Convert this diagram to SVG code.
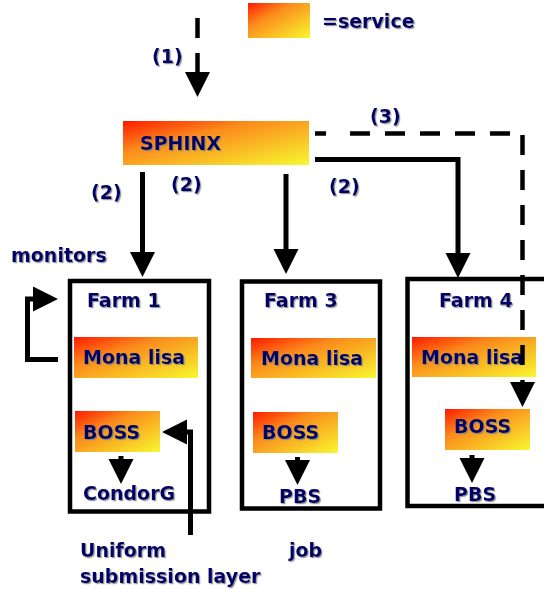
<svg xmlns="http://www.w3.org/2000/svg" width="544" height="589" viewBox="0 0 544 589">
<defs>
<linearGradient id="svc" x1="0" y1="0" x2="1" y2="1">
<stop offset="0" stop-color="#ff1a00"/>
<stop offset="0.35" stop-color="#fb8a1c"/>
<stop offset="0.7" stop-color="#f9c526"/>
<stop offset="1" stop-color="#f8f830"/>
</linearGradient>
<filter id="sh" x="-10%" y="-20%" width="130%" height="150%">
<feDropShadow dx="1.2" dy="1.2" stdDeviation="0.6" flood-color="#808080" flood-opacity="0.8"/>
</filter>
<marker id="ah" markerUnits="userSpaceOnUse" markerWidth="26" markerHeight="26" refX="0" refY="12.5" orient="auto" overflow="visible">
<path d="M0,0 L25,12.5 L0,25 Z" fill="#000"/>
</marker>
</defs>
<style>
text{font-family:"DejaVu Sans","Verdana",sans-serif;font-weight:bold;font-size:19px;fill:#000066;filter:url(#sh)}
.svc{fill:url(#svc)}
.farm{fill:none;stroke:#000;stroke-width:4.5}
.ln{fill:none;stroke:#000;stroke-width:5;stroke-linejoin:miter}
.dash{fill:none;stroke:#000;stroke-width:4.5;stroke-dasharray:20 15}
</style>
<rect width="544" height="589" fill="#fff"/>

<g id="legend">
<rect class="svc" x="248" y="3" width="62" height="35"/>
<text x="322" y="28">=service</text>
</g>

<g id="sphinx">
<rect class="svc" x="123" y="121" width="186" height="44"/>
<text x="140" y="150">SPHINX</text>
</g>

<g id="farm1">
<rect class="farm" x="70" y="281" width="139" height="230.5"/>
<text x="87" y="307">Farm 1</text>
</g>
<g id="monalisa1">
<rect class="svc" x="74" y="337" width="124" height="41"/>
<text x="83" y="364">Mona lisa</text>
</g>
<g id="boss1">
<rect class="svc" x="75" y="411" width="85" height="41"/>
<text x="83" y="439">BOSS</text>
</g>
<g id="condorg"><text x="83" y="500">CondorG</text></g>

<g id="farm3">
<rect class="farm" x="242" y="281.5" width="138" height="227"/>
<text x="264" y="307">Farm 3</text>
</g>
<g id="monalisa3">
<rect class="svc" x="251" y="338" width="125" height="40"/>
<text x="261" y="365">Mona lisa</text>
</g>
<g id="boss3">
<rect class="svc" x="253" y="412" width="85" height="41"/>
<text x="262" y="439">BOSS</text>
</g>
<g id="pbs3"><text x="279" y="503">PBS</text></g>

<g id="farm4">
<rect class="farm" x="407.5" y="279" width="200" height="227"/>
<text x="439" y="307">Farm 4</text>
</g>
<g id="monalisa4">
<rect class="svc" x="412" y="337" width="124" height="40"/>
<text x="421" y="364">Mona lisa</text>
</g>
<g id="boss4">
<rect class="svc" x="445" y="409" width="85" height="41"/>
<text x="454" y="433">BOSS</text>
</g>
<g id="pbs4"><text x="454" y="501">PBS</text></g>

<g id="labels">
<text x="152" y="63">(1)</text>
<text x="370" y="123">(3)</text>
<text x="91" y="199">(2)</text>
<text x="171" y="191">(2)</text>
<text x="329" y="193">(2)</text>
<text x="11" y="262">monitors</text>
<text x="80" y="557">Uniform</text>
<text x="80" y="583">submission layer</text>
<text x="289" y="557">job</text>
</g>

<g id="connectors">
<path class="dash" d="M197.5,18 V72" marker-end="url(#ah)"/>
<path class="ln" d="M142.5,172 V252" marker-end="url(#ah)"/>
<path class="ln" d="M286,174 V249" marker-end="url(#ah)"/>
<path class="ln" d="M315,159.5 H458 V253" marker-end="url(#ah)"/>
<path class="ln" d="M315,133.5 H326" style="stroke-width:4.5"/>
<path class="dash" d="M350,133.5 H510"/>
<path class="dash" d="M522.5,135 V382" marker-end="url(#ah)"/>
<path class="ln" d="M58,359.5 H27.5 V299 H33" marker-end="url(#ah)"/>
<path class="ln" d="M190.5,535 V432 H187" marker-end="url(#ah)"/>
<path class="ln" d="M121,456 V459" marker-end="url(#ah)"/>
<path class="ln" d="M297.5,457 V460" marker-end="url(#ah)"/>
<path class="ln" d="M472,455 V458" marker-end="url(#ah)"/>
</g>
</svg>
